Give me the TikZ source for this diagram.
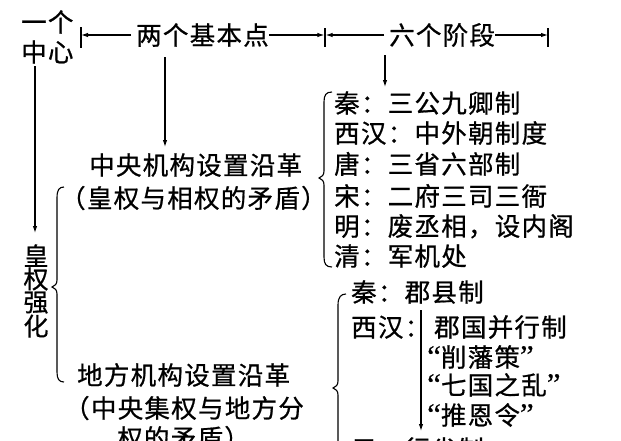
\documentclass[tikz,border=0pt]{standalone}
\usepackage{fontspec}
\newfontfamily\cjk[LetterSpace=5,FakeBold=0.7]{Noto Sans CJK SC}
\newfontfamily\qf[FakeBold=0.5]{Liberation Serif}
\newcommand{\myLq}{{\qf\fontsize{31}{31}\selectfont\char"201C}}
\newcommand{\myRq}{{\qf\fontsize{31}{31}\selectfont\char"201D}}
\usetikzlibrary{arrows.meta}
\begin{document}
\begin{tikzpicture}[x=1pt,y=-1pt,
  txt/.style={anchor=west,inner sep=0pt,font=\cjk\fontsize{25.5}{25.5}\selectfont,text height=20.4pt,text depth=1pt},
  vtxt/.style={inner sep=0pt,align=center,font=\cjk\fontsize{25}{23}\selectfont},
  arr/.style={-{Latex[length=7pt,width=4.5pt]},line width=1.1pt},
  ln/.style={line width=1.1pt},
  brc/.style={line width=1.1pt}]
\fill[white] (0,0) rectangle (621,440);
\clip (0,0) rectangle (621,440);
\useasboundingbox (0,0) rectangle (621,440);

% top row
\node[txt] (yige) at (21,22) {一个};
\node[txt] (zx) at (21,52) {中心};
\node[txt] (jb) at (136,35) {两个基本点};
\node[txt] (ljd) at (389,35) {六个阶段};
\coordinate (b1) at (81,35);
\coordinate (b2) at (325,35);
\coordinate (b3) at (548,35);
\draw[ln] (81,27) -- (81,48);
\draw[ln] (325,28) -- (325,47);
\draw[ln] (548,28) -- (548,47);
\draw[arr] ([xshift=-5pt]jb.west) -- (b1);
\draw[arr] ([xshift=0pt]jb.east) -- ([xshift=-0.6pt]b2);
\draw[arr] ([xshift=-5pt]ljd.west) -- ([xshift=0.6pt]b2);
\draw[arr] ([xshift=0pt]ljd.east) -- (b3);

% left column
\node[vtxt] (hq) at (36,291) {皇\\权\\强\\化};
\coordinate (a0s) at (35,66);
\coordinate (a0e) at (35,233);
\draw[arr] (a0s) -- (a0e);

% central institutions
\node[txt] (zy1) at (89,165) {中央机构设置沿革};
\node[txt] (zy2) at (60,198) {（皇权与相权的矛盾）};
\coordinate (a1s) at (165,57);
\coordinate (a1e) at (165,147);
\draw[arr] (a1s) -- (a1e);
\coordinate (a2s) at (385,55);
\coordinate (a2e) at (385,87);
\draw[arr] (a2s) -- (a2e);

\node[txt] (c1) at (334,103) {秦：三公九卿制};
\node[txt] (c2) at (334,133) {西汉：中外朝制度};
\node[txt] (c3) at (334,164) {唐：三省六部制};
\node[txt] (c4) at (334,196) {宋：二府三司三衙};
\node[txt] (c5) at (334,226) {明：废丞相，设内阁};
\node[txt] (c6) at (334,256) {清：军机处};

% local institutions
\node[txt] (df1) at (77,375) {地方机构设置沿革};
\node[txt] (df2) at (64,408) {（中央集权与地方分};
\node[txt] (df3) at (117,438) {权的矛盾）};

\node[txt] (l1) at (351,292) {秦：郡县制};
\node[txt] (l2) at (351,327) {西汉：};
\node[txt] (l2b) at (434,327) {郡国并行制};
\node[txt] (l3) at (427,357) {\myLq 削藩策\myRq};
\node[txt] (l4) at (427,385) {\myLq 七国之乱\myRq};
\node[txt] (l5) at (427,415) {\myLq 推恩令\myRq};
\node[txt] (l6) at (351,449) {元：行省制};
\coordinate (a3s) at (421,310);
\coordinate (a3e) at (421,431);
\draw[arr] (a3s) -- (a3e);

% braces
\draw[brc] (332,92) .. controls (326,92) and (324,95) .. (324,102) -- (324,171)
  .. controls (324,175) and (322,177) .. (319,178)
  .. controls (322,179) and (324,181) .. (324,185) -- (324,257)
  .. controls (324,264) and (326,267) .. (332,267);
\draw[brc] (64,187) .. controls (59,187) and (57,190) .. (57,198) -- (57,280)
  .. controls (57,284) and (55,286) .. (52,287)
  .. controls (55,288) and (57,290) .. (57,294) -- (57,372)
  .. controls (57,379) and (59,382) .. (64,382);
\draw[brc] (346,294) .. controls (341,294) and (338,297) .. (338,305) -- (338,381)
  .. controls (338,385) and (336,387) .. (333,388)
  .. controls (336,389) and (338,391) .. (338,395) -- (338,470);
\end{tikzpicture}
\end{document}
